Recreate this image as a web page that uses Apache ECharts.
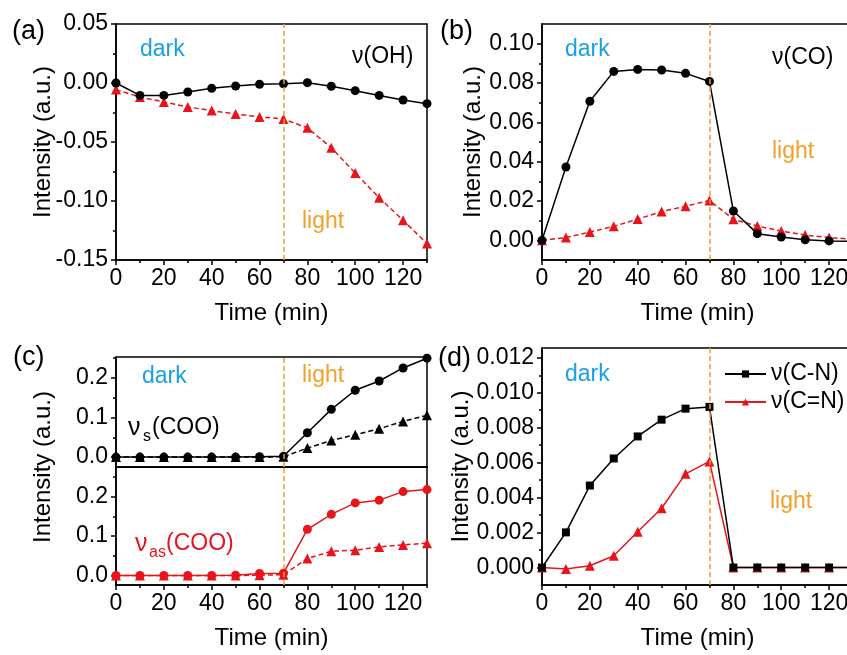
<!DOCTYPE html>
<html><head><meta charset="utf-8">
<script src="https://cdn.jsdelivr.net/npm/echarts@6/dist/echarts.min.js"></script>
<style>html,body{margin:0;padding:0;background:#fff}#c{width:847px;height:655px}</style>
</head><body><div id="c"></div>
<script>
// ---------- data ----------
const times = [0,10,20,30,40,50,60,70,80,90,100,110,120,130];
const xMajor = [0,20,40,60,80,100,120];
const xMinor = [10,30,50,70,90,110,130];

// (a) v(OH)
const aBlack = [0.000,-0.0105,-0.0105,-0.0076,-0.0045,-0.0025,-0.0011,-0.0006,0.0003,-0.0028,-0.0065,-0.0105,-0.0144,-0.0175];
const aRed   = [-0.0056,-0.0119,-0.0160,-0.0203,-0.0234,-0.0263,-0.0288,-0.0305,-0.0380,-0.0548,-0.0763,-0.0972,-0.1164,-0.1360];
const aYMajor = [-0.15,-0.10,-0.05,0,0.05];
const aYMinor = [-0.125,-0.075,-0.025,0.025];

// (b) v(CO)
const bBlack = [0,0.0373,0.0707,0.0859,0.0869,0.0866,0.0849,0.0808,0.0149,0.0034,0.0017,0.0003,-0.0003,-0.0006];
const bRed   = [0,0.0014,0.0042,0.0071,0.0108,0.0146,0.0173,0.0203,0.0107,0.0073,0.0047,0.0027,0.0014,0.0006];
const bYMajor = [0,0.02,0.04,0.06,0.08,0.10];
const bYMinor = [0.01,0.03,0.05,0.07,0.09];

// (c) vs(COO) / vas(COO)
const csCircle = [0,0,0,0,0,0,0.001,0.002,0.0616,0.1207,0.169,0.1924,0.2253,0.250];
const csTri    = [0,0,0,0,0,0,0,0.001,0.0228,0.042,0.0565,0.0717,0.0903,0.1055];
const casCircle = [0,0,0,0,0,0.001,0.005,0.006,0.117,0.155,0.184,0.191,0.2127,0.2177];
const casTri    = [0,0,0,0,0,0,0.001,0.002,0.043,0.0616,0.064,0.0726,0.0776,0.0819];
const cYMajor = [0,0.1,0.2];
const cYMinor = [0.05,0.15,0.25];

// (d) v(C-N) / v(C=N)
const dCN   = [0,0.00201,0.00469,0.00624,0.0075,0.00846,0.00909,0.00919,0,0,0,0,0,0];
const dCeqN = [0,-0.00008,0.0001,0.00067,0.00205,0.00339,0.00536,0.00607,0,0,0,0,0,0];
const dYMajor = [0,0.002,0.004,0.006,0.008,0.010,0.012];
const dYMinor = [0.001,0.003,0.005,0.007,0.009,0.011];

const lightTime = 70;

// ---------- styling ----------
const FONT = 'Liberation Sans, Arial, sans-serif';
const BLACK = '#000000', RED = '#e8141c', BLUE = '#1aa0e6', ORANGE = '#f2a02a';

const rects = [
  {left:116, top:24,  width:311, height:236},   // a
  {left:542, top:24,  width:311, height:236},   // b
  {left:116, top:357, width:311, height:110},   // c top
  {left:116, top:467, width:311, height:118},   // c bottom
  {left:542, top:348, width:311, height:237}    // d
];
const yRanges = [[-0.15,0.05],[-0.01,0.11],[-0.025,0.253],[-0.024,0.275],[-0.001,0.01256]];
const yMaj = [aYMajor,bYMajor,cYMajor,cYMajor,dYMajor];
const yMin = [aYMinor,bYMinor,cYMinor,cYMinor,dYMinor];
const yDec = [2,2,1,1,3];
const yNameGap = [61,57,null,null,69];
const showXLabels = [true,true,false,true,true];

const grid = [], xAxis = [], yAxis = [];
rects.forEach((r,i)=>{
  grid.push(Object.assign({show:true, borderColor:BLACK, borderWidth:1.5, backgroundColor:'transparent', containLabel:false, outerBoundsMode:'none'}, r));
});
rects.forEach((r,i)=>{
  grid.push(Object.assign({show:false, containLabel:false, outerBoundsMode:'none'}, r));
});
const tickLine = {color:BLACK, width:1.5};
rects.forEach((r,i)=>{
  xAxis.push({
    type:'value', gridIndex:i, min:0, max:130,
    axisLine:{show:true, onZero:false, lineStyle:tickLine},
    axisTick:{show:showXLabels[i], inside:false, length:5, customValues:xMajor, lineStyle:tickLine},
    axisLabel:{show:showXLabels[i], customValues:xMajor, margin:7, fontSize:23, color:BLACK, fontFamily:FONT},
    splitLine:{show:false},
    name: showXLabels[i] ? 'Time (min)' : '', nameLocation:'middle', nameGap:41, nameMoveOverlap:false,
    nameTextStyle:{fontSize:24, color:BLACK, fontFamily:FONT}
  });
  yAxis.push({
    type:'value', gridIndex:i, min:yRanges[i][0], max:yRanges[i][1],
    axisLine:{show:true, onZero:false, lineStyle:tickLine},
    axisTick:{show:true, inside:false, length:5, customValues:yMaj[i], lineStyle:tickLine},
    axisLabel:{show:true, customValues:yMaj[i], margin:8, fontSize:23, color:BLACK, fontFamily:FONT,
      formatter:(v)=>Number(v).toFixed(yDec[i])},
    splitLine:{show:false},
    name: yNameGap[i] ? 'Intensity (a.u.)' : '', nameLocation:'middle', nameGap:yNameGap[i]||0, nameMoveOverlap:false,
    nameTextStyle:{fontSize:24, color:BLACK, fontFamily:FONT}
  });
});
rects.forEach((r,i)=>{
  xAxis.push({
    type:'value', gridIndex:5+i, min:0, max:130,
    axisLine:{show:false, onZero:false},
    axisTick:{show:showXLabels[i], inside:false, length:3, customValues:xMinor, lineStyle:tickLine},
    axisLabel:{show:false}, splitLine:{show:false}
  });
  yAxis.push({
    type:'value', gridIndex:5+i, min:yRanges[i][0], max:yRanges[i][1],
    axisLine:{show:false, onZero:false},
    axisTick:{show:true, inside:false, length:3, customValues:yMin[i], lineStyle:tickLine},
    axisLabel:{show:false}, splitLine:{show:false}
  });
});

function pts(vals){ return times.map((t,k)=>[t, vals[k]]); }
function ser(name, vals, gi, color, symbol, size, dashed, withMark){
  const s = {
    type:'line', name, xAxisIndex:gi, yAxisIndex:gi, data:pts(vals),
    symbol, symbolSize:size, showSymbol:true, clip:false,
    itemStyle:{color, borderWidth:0},
    lineStyle:{color, width:1.5, type: dashed ? [5,3] : 'solid'},
    emphasis:{disabled:true}, z: color===BLACK ? 3 : 2
  };
  if (withMark) {
    s.markLine = {silent:true, symbol:['none','none'], label:{show:false},
      lineStyle:{color:ORANGE, width:1.5, type:[5,3]}, data:[{xAxis:lightTime}]};
  }
  return s;
}
const series = [
  ser('aRed', aRed, 0, RED, 'triangle', 10, true, true),
  ser('aBlack', aBlack, 0, BLACK, 'circle', 9, false, false),
  ser('bRed', bRed, 1, RED, 'triangle', 10, true, true),
  ser('bBlack', bBlack, 1, BLACK, 'circle', 9, false, false),
  ser('csTri', csTri, 2, BLACK, 'triangle', 10, true, true),
  ser('csCircle', csCircle, 2, BLACK, 'circle', 9, false, false),
  ser('casTri', casTri, 3, RED, 'triangle', 10, true, true),
  ser('casCircle', casCircle, 3, RED, 'circle', 9, false, false),
  ser('ν(C=N)', dCeqN, 4, RED, 'triangle', 10, false, true),
  ser('ν(C-N)', dCN, 4, BLACK, 'rect', 8, false, false)
];

function txt(text, x, y, size, color, extra){
  return Object.assign({type:'text', x, y, silent:true, z:10,
    style:{text, fontSize:size, fontFamily:FONT, fill:color, textAlign:'left', textVerticalAlign:'middle'}}, extra||{});
}
const graphic = [
  txt('(a)', 12, 32, 27, BLACK),
  txt('dark', 140, 50, 23, BLUE),
  txt('ν(OH)', 352, 57, 23, BLACK),
  txt('light', 302, 222, 23, ORANGE),

  txt('(b)', 440, 32, 27, BLACK),
  txt('dark', 565, 50, 23, BLUE),
  txt('ν(CO)', 772, 58, 23, BLACK),
  txt('light', 772, 152, 23, ORANGE),

  txt('(c)', 13, 358, 27, BLACK),
  txt('dark', 142, 377, 23, BLUE),
  txt('light', 302, 376, 23, ORANGE),
  txt('ν', 128, 428, 25, BLACK),
  txt('s', 143, 437, 16, BLACK),
  txt('(COO)', 152, 428, 23, BLACK),
  txt('ν', 135, 544, 25, RED),
  txt('as', 149, 553, 16, RED),
  txt('(COO)', 166, 544, 23, RED),
  {type:'text', x:43, y:467, rotation:Math.PI/2, silent:true, z:10,
   style:{text:'Intensity (a.u.)', fontSize:24, fontFamily:FONT, fill:BLACK, textAlign:'center', textVerticalAlign:'middle'}},

  txt('(d)', 438, 359, 27, BLACK),
  txt('dark', 565, 375, 23, BLUE),
  txt('light', 770, 502, 23, ORANGE)
];

const chart = echarts.init(document.getElementById('c'), null, {renderer:'canvas'});
chart.setOption({
  animation:false,
  backgroundColor:'#ffffff',
  textStyle:{fontFamily:FONT},
  grid, xAxis, yAxis, series, graphic,
  legend:{
    data:['ν(C-N)','ν(C=N)'], orient:'vertical', left:719, top:357,
    itemWidth:41, itemHeight:9, itemGap:4, selectedMode:false,
    textStyle:{fontSize:23, color:BLACK, fontFamily:FONT, lineHeight:24}
  }
});
</script>
</body></html>
